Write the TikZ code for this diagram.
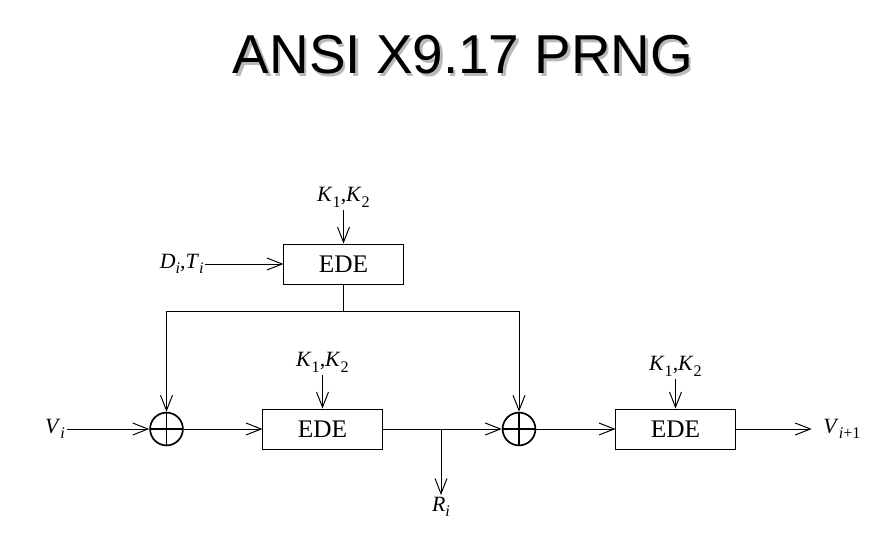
\documentclass[tikz,border=0pt]{standalone}
\usepackage{fontspec}
\setmainfont{Liberation Serif}
\newfontfamily\titlefont{Liberation Sans}
\usetikzlibrary{arrows.meta,positioning}
\newcommand{\lsub}[1]{\raisebox{-4pt}{\fontsize{11.5}{12}\selectfont #1}}

\begin{document}
\begin{tikzpicture}[x=0.025cm, y=-0.025cm, line width=0.7pt, node distance=9mm,
  box/.style={draw, minimum width=2.975cm, minimum height=1cm, inner sep=0pt, font=\fontsize{18}{21}\selectfont},
  xor/.style={draw, circle, line width=1.2pt, minimum size=0.82cm, inner sep=0pt,
    path picture={\draw[line width=1.2pt] (path picture bounding box.north) -- (path picture bounding box.south)
      (path picture bounding box.west) -- (path picture bounding box.east);}},
  lab/.style={inner sep=1pt, font=\fontsize{15.5}{18}\selectfont},
  ttl/.style={font=\titlefont\fontsize{39}{44}\selectfont},
  arr/.style={-{Straight Barb[length=3.8mm,width=3mm]}}]
\useasboundingbox (0,0) rectangle (889,541);
% title
\node[ttl, gray!55] (shadow) at (465.5,57.5) {ANSI X9.17 PRNG};
\node[ttl] (title) at (463,55) {ANSI X9.17 PRNG};
% blocks
\node[box] (ede1) at (343.5,264) {EDE};
\node[box] (ede2) at (322.5,429) {EDE};
\node[box] (ede3) at (675.5,429) {EDE};
\node[xor] (xor1) at (166.5,429) {};
\node[xor] (xor2) at (519,429) {};
% labels
\node[lab, above=8.5mm of ede1] (k1) {\textit{K}\lsub{1},\textit{K}\lsub{2}};
\node[lab, above=8.5mm of ede2] (k2) {\textit{K}\lsub{1},\textit{K}\lsub{2}};
\node[lab, above=7.5mm of ede3] (k3) {\textit{K}\lsub{1},\textit{K}\lsub{2}};
\node[lab, left=1.95cm of ede1] (dt) {\textit{D}\lsub{\textit{i}},\textit{T}\lsub{\textit{i}}};
\node[lab] (vi) at (55,429) {\textit{V}\lsub{\textit{i}}};
\node[lab, right=2.15cm of ede3] (vout) {\textit{V}\lsub{\textit{i}+1}};
\coordinate (split) at (441,429);
\node[lab, below=1.65cm of split] (ri) {\textit{R}\lsub{\textit{i}}};
\coordinate (top) at (ede1.south |- 0,311);
% connectors
\draw[arr] (k1) -- (ede1); \draw[arr] (k2) -- (ede2); \draw[arr] (k3.south -| ede3.north) -- (ede3.north);
\draw[arr] (dt) -- (ede1);
\draw (ede1.south) -- (top);
\draw[arr] (top) -| (xor1.north); \draw[arr] (top) -| (xor2.north);
\draw[arr] (vi) -- (xor1); \draw[arr] (xor1) -- (ede2);
\draw (ede2.east) -- (split); \draw[arr] (split) -- (xor2);
\draw[arr] (split) -- (ri);
\draw[arr] (xor2) -- (ede3); \draw[arr, shorten >=7pt] (ede3) -- (vout);
\end{tikzpicture}
\end{document}
